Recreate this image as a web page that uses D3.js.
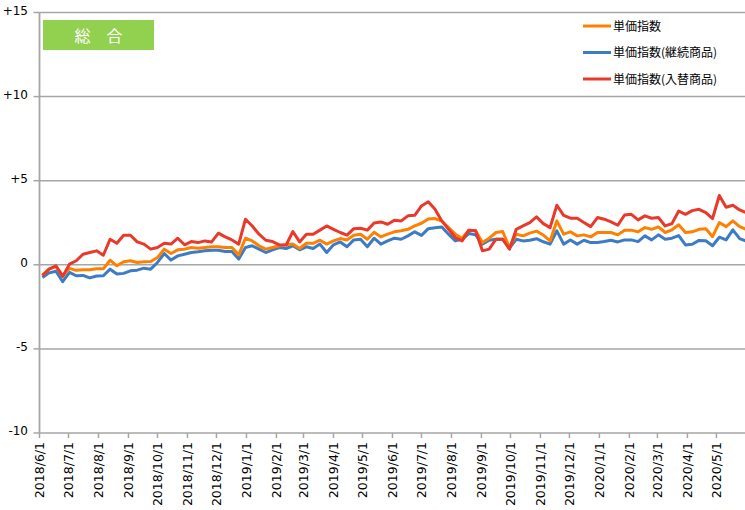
<!DOCTYPE html>
<html>
<head>
<meta charset="utf-8">
<script src="https://cdn.jsdelivr.net/npm/d3@7"></script>
<style>
  html, body { margin: 0; padding: 0; background: #fff; }
  svg { display: block; }
</style>
</head>
<body>
<svg id="chart" width="745" height="510"></svg>
<script>
// ---- data ----
const dates = [
  "2018/6/4","2018/6/11","2018/6/18","2018/6/25","2018/7/2","2018/7/9","2018/7/16","2018/7/23","2018/7/30",
  "2018/8/6","2018/8/13","2018/8/20","2018/8/27","2018/9/3","2018/9/10","2018/9/17","2018/9/24",
  "2018/10/1","2018/10/8","2018/10/15","2018/10/22","2018/10/29","2018/11/5","2018/11/12","2018/11/19","2018/11/26",
  "2018/12/3","2018/12/10","2018/12/17","2018/12/24","2018/12/31",
  "2019/1/7","2019/1/14","2019/1/21","2019/1/28","2019/2/4","2019/2/11","2019/2/18","2019/2/25",
  "2019/3/4","2019/3/11","2019/3/18","2019/3/25","2019/4/1","2019/4/8","2019/4/15","2019/4/22","2019/4/29",
  "2019/5/6","2019/5/13","2019/5/20","2019/5/27","2019/6/3","2019/6/10","2019/6/17","2019/6/24",
  "2019/7/1","2019/7/8","2019/7/15","2019/7/22","2019/7/29","2019/8/5","2019/8/12","2019/8/19","2019/8/26",
  "2019/9/2","2019/9/9","2019/9/16","2019/9/23","2019/9/30","2019/10/7","2019/10/14","2019/10/21","2019/10/28",
  "2019/11/4","2019/11/11","2019/11/18","2019/11/25","2019/12/2","2019/12/9","2019/12/16","2019/12/23","2019/12/30",
  "2020/1/6","2020/1/13","2020/1/20","2020/1/27","2020/2/3","2020/2/10","2020/2/17","2020/2/24",
  "2020/3/2","2020/3/9","2020/3/16","2020/3/23","2020/3/30","2020/4/6","2020/4/13","2020/4/20","2020/4/27",
  "2020/5/4","2020/5/11","2020/5/18","2020/5/25","2020/6/1"
];

const seriesNames = ["単価指数", "単価指数(継続商品)", "単価指数(入替商品)"];

const unitPrice = [
  -0.61,-0.24,-0.11,-0.65,-0.21,-0.33,-0.29,-0.29,-0.24,-0.24,
  0.27,-0.06,0.18,0.24,0.14,0.18,0.20,0.43,0.93,0.67,
  0.89,0.93,1.03,0.99,1.03,1.07,1.07,1.03,1.03,0.59,
  1.58,1.42,1.13,0.93,1.03,1.13,1.19,1.23,0.97,1.28,
  1.28,1.46,1.23,1.42,1.56,1.48,1.76,1.82,1.52,1.94,
  1.66,1.82,1.96,2.02,2.11,2.31,2.47,2.72,2.75,2.60,
  2.21,1.82,1.58,2.06,2.02,1.32,1.58,1.92,1.98,1.03,
  1.82,1.72,1.88,2.00,1.77,1.42,2.61,1.82,1.96,1.72,
  1.78,1.66,1.92,1.92,1.92,1.78,2.06,2.06,1.96,2.21,
  2.11,2.25,1.92,2.08,2.38,1.92,1.96,2.11,2.15,1.67,
  2.51,2.27,2.61,2.27,2.10
];

const unitPriceContinuing = [
  -0.75,-0.48,-0.38,-1.00,-0.45,-0.65,-0.63,-0.78,-0.67,-0.65,
  -0.26,-0.55,-0.51,-0.36,-0.32,-0.20,-0.26,0.14,0.67,0.28,
  0.53,0.63,0.73,0.77,0.83,0.87,0.87,0.79,0.79,0.34,
  1.03,1.13,0.93,0.73,0.89,1.03,0.97,1.13,0.89,1.07,
  0.97,1.23,0.73,1.19,1.36,1.07,1.48,1.52,1.07,1.58,
  1.23,1.42,1.58,1.52,1.72,1.96,1.75,2.15,2.20,2.25,
  1.82,1.42,1.52,1.86,1.78,1.23,1.46,1.52,1.52,0.99,
  1.52,1.42,1.46,1.55,1.37,1.23,2.02,1.23,1.48,1.23,
  1.46,1.32,1.32,1.38,1.46,1.36,1.48,1.48,1.38,1.72,
  1.48,1.78,1.52,1.58,1.74,1.18,1.22,1.45,1.43,1.13,
  1.64,1.48,2.08,1.56,1.40
];

const unitPriceReplaced = [
  -0.65,-0.26,-0.06,-0.69,0.04,0.24,0.63,0.73,0.83,0.57,
  1.52,1.28,1.76,1.76,1.36,1.23,0.93,1.03,1.28,1.23,
  1.58,1.19,1.38,1.32,1.42,1.36,1.88,1.66,1.48,1.23,
  2.71,2.31,1.82,1.46,1.38,1.19,1.17,1.98,1.36,1.82,
  1.82,2.06,2.31,2.11,1.92,1.76,2.15,2.17,2.06,2.48,
  2.55,2.41,2.65,2.61,2.91,2.94,3.50,3.75,3.30,2.61,
  2.11,1.62,1.42,2.06,2.02,0.83,0.93,1.52,1.52,0.93,
  2.11,2.31,2.51,2.85,2.45,2.21,3.54,2.94,2.77,2.77,
  2.51,2.27,2.81,2.71,2.55,2.35,2.96,3.00,2.67,2.91,
  2.77,2.81,2.31,2.45,3.20,3.00,3.22,3.30,3.10,2.75,
  4.12,3.42,3.54,3.26,3.10
];

const yTickValues = [-10, -5, 0, 5, 10, 15];
const yTickLabels = ["-10", "-5", "0", "+5", "+10", "+15"];
const xDomain = ["2018/6/1", "2020/6/1"];
const panelTitle = "総　合";

// ---- drawing ----
(function () {
const parse = d3.timeParse("%Y/%m/%d");
const fmt = d3.timeFormat("%Y/%-m/%-d");
const svg = d3.select("#chart");
const W = 745, H = 510;
svg.append("rect").attr("width", W).attr("height", H).attr("fill", "#fff");

const plotLeft = 39.5, plotTop = 12.5, plotBottom = 433;
const x = d3.scaleTime().domain(xDomain.map(parse)).range([plotLeft, 746.4]);
const y = d3.scaleLinear().domain([-10, 15]).range([plotBottom, plotTop]);

const gridColor = "#a6a6a6";

// horizontal gridlines
svg.append("g").selectAll("line").data(yTickValues).join("line")
  .attr("x1", plotLeft).attr("x2", W)
  .attr("y1", d => y(d)).attr("y2", d => y(d))
  .attr("stroke", gridColor).attr("stroke-width", 1.5);

// y axis line + ticks
svg.append("line").attr("x1", plotLeft).attr("x2", plotLeft).attr("y1", plotTop).attr("y2", plotBottom)
  .attr("stroke", gridColor).attr("stroke-width", 1.8);
svg.append("g").selectAll("line").data(yTickValues).join("line")
  .attr("x1", plotLeft - 6).attr("x2", plotLeft)
  .attr("y1", d => y(d)).attr("y2", d => y(d))
  .attr("stroke", gridColor).attr("stroke-width", 1.5);
svg.append("g").selectAll("text").data(yTickValues).join("text")
  .attr("x", 28).attr("y", d => y(d) - 2)
  .attr("text-anchor", "end").attr("dominant-baseline", "central")
  .attr("font-family", "DejaVu Sans, Verdana, sans-serif").attr("font-size", 12)
  .attr("fill", "#000")
  .text((d, i) => yTickLabels[i]);

// x axis ticks & labels
const months = d3.timeMonth.range(parse(xDomain[0]), parse("2020/5/2"));
svg.append("g").selectAll("line").data(months).join("line")
  .attr("x1", d => x(d)).attr("x2", d => x(d))
  .attr("y1", plotBottom).attr("y2", plotBottom + 5)
  .attr("stroke", gridColor).attr("stroke-width", 1.5);
svg.append("g").selectAll("text").data(months).join("text")
  .attr("transform", d => `translate(${x(d)},${plotBottom + 9}) rotate(-90)`)
  .attr("text-anchor", "end").attr("dominant-baseline", "central")
  .attr("font-family", "DejaVu Sans, Verdana, sans-serif").attr("font-size", 12.5)
  .attr("fill", "#000")
  .text(d => fmt(d));

// clip
svg.append("clipPath").attr("id", "plotclip").append("rect")
  .attr("x", plotLeft).attr("y", 0).attr("width", W - plotLeft).attr("height", plotBottom);

const seriesData = [
  { name: seriesNames[1], values: unitPriceContinuing, color: "#3d7cc4" },
  { name: seriesNames[0], values: unitPrice, color: "#ff8000" },
  { name: seriesNames[2], values: unitPriceReplaced, color: "#e8392b" }
];
const line = d3.line().x((d, i) => x(parse(dates[i]))).y(d => y(d));
svg.append("g").attr("clip-path", "url(#plotclip)")
  .selectAll("path").data(seriesData).join("path")
  .attr("d", d => line(d.values))
  .attr("fill", "none").attr("stroke", d => d.color)
  .attr("stroke-width", 3).attr("stroke-linejoin", "round");

// legend
const legendItems = [
  { name: seriesNames[0], color: "#ff8000" },
  { name: seriesNames[1], color: "#3d7cc4" },
  { name: seriesNames[2], color: "#e8392b" }
];
const lg = svg.append("g");
legendItems.forEach((it, i) => {
  const ly = 26 + i * 26.5;
  lg.append("line").attr("x1", 583).attr("x2", 611).attr("y1", ly).attr("y2", ly)
    .attr("stroke", it.color).attr("stroke-width", 3);
  lg.append("text").attr("x", 613).attr("y", ly - 1)
    .attr("dominant-baseline", "central")
    .attr("font-family", "Noto Sans CJK JP, sans-serif").attr("font-size", 12)
    .attr("fill", "#000").text(it.name);
});

// panel title box
svg.append("rect").attr("x", 43).attr("y", 20).attr("width", 111).attr("height", 30)
  .attr("fill", "#92d050");
svg.append("text").attr("x", 98.5).attr("y", 35)
  .attr("text-anchor", "middle").attr("dominant-baseline", "central")
  .attr("font-family", "Noto Sans CJK JP, sans-serif").attr("font-size", 16)
  .attr("fill", "#fff").text(panelTitle);
})();
</script>
</body>
</html>
